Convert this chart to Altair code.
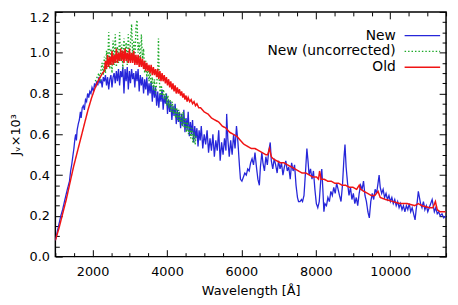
import altair as alt
import pandas as pd

# ---------------- data ----------------
series_names = ["New", "New (uncorrected)", "Old"]
series_colors = ["#2626d9", "#1faa2a", "#f01414"]

new_wl = [1000, 1049, 1098, 1146, 1195, 1244, 1283, 1322, 1351, 1380, 1410, 1439, 1468, 1498, 1527, 1546, 1566, 1585,
          1615, 1644, 1673, 1693, 1722, 1751, 1780, 1810, 1839, 1868, 1897, 1927, 1956, 1985, 2024, 2054, 2083, 2112,
          2141, 2171, 2200, 2229, 2258, 2288, 2317, 2346, 2375, 2405, 2434, 2463, 2493, 2522, 2551, 2580, 2610, 2639,
          2668, 2697, 2727, 2756, 2785, 2814, 2844, 2873, 2902, 2932, 2961, 2990, 3019, 3049, 3078, 3107, 3136, 3166,
          3195, 3224, 3253, 3283, 3312, 3341, 3371, 3400, 3429, 3458, 3488, 3517, 3546, 3575, 3605, 3634, 3663, 3692,
          3722, 3751, 3780, 3810, 3839, 3868, 3897, 3927, 3956, 3985, 4014, 4044, 4073, 4102, 4131, 4161, 4190, 4219,
          4249, 4278, 4307, 4336, 4366, 4395, 4424, 4453, 4483, 4512, 4541, 4570, 4600, 4629, 4658, 4687, 4717, 4746,
          4775, 4804, 4834, 4863, 4892, 4922, 4961, 5000, 5039, 5078, 5117, 5156, 5195, 5234, 5273, 5312, 5351, 5390,
          5429, 5468, 5507, 5546, 5585, 5604, 5634, 5673, 5712, 5751, 5790, 5829, 5868, 5907, 5946, 5975, 6014, 6053,
          6092, 6131, 6170, 6209, 6248, 6287, 6325, 6365, 6404, 6443, 6482, 6511, 6550, 6579, 6619, 6658, 6697, 6736,
          6775, 6804, 6843, 6882, 6921, 6960, 6999, 7038, 7077, 7116, 7155, 7194, 7233, 7272, 7312, 7350, 7390, 7429,
          7468, 7507, 7536, 7575, 7614, 7643, 7682, 7721, 7760, 7790, 7819, 7858, 7897, 7936, 7975, 8014, 8053, 8092,
          8131, 8160, 8189, 8217, 8246, 8286, 8325, 8365, 8404, 8443, 8482, 8521, 8560, 8599, 8636, 8677, 8716, 8755,
          8784, 8814, 8853, 8892, 8931, 8970, 9009, 9048, 9087, 9126, 9165, 9204, 9243, 9282, 9321, 9360, 9399, 9438,
          9477, 9516, 9555, 9594, 9633, 9672, 9701, 9731, 9770, 9809, 9848, 9887, 9926, 9965, 10004, 10043, 10082,
          10121, 10160, 10199, 10238, 10277, 10316, 10355, 10394, 10433, 10472, 10511, 10550, 10589, 10628, 10667,
          10696, 10726, 10755, 10785, 10814, 10853, 10892, 10931, 10970, 11009, 11048, 11087, 11126, 11156, 11185,
          11224, 11263, 11302, 11341, 11390, 11439, 11488]
new_val = [0.08, 0.12, 0.16, 0.20, 0.23, 0.27, 0.30, 0.33, 0.35, 0.37, 0.42, 0.45, 0.49, 0.53, 0.58, 0.60, 0.57, 0.62,
           0.65, 0.67, 0.71, 0.68, 0.73, 0.74, 0.72, 0.77, 0.76, 0.80, 0.78, 0.81, 0.80, 0.83, 0.81, 0.85, 0.83, 0.86,
           0.84, 0.88, 0.85, 0.87, 0.83, 0.88, 0.86, 0.89, 0.84, 0.88, 0.82, 0.87, 0.89, 0.83, 0.88, 0.90, 0.85, 0.91,
           0.86, 0.92, 0.84, 0.91, 0.88, 0.93, 0.80, 0.92, 0.86, 0.93, 0.82, 0.91, 0.85, 0.92, 0.87, 0.90, 0.83, 0.91,
           0.86, 0.92, 0.81, 0.89, 0.84, 0.88, 0.80, 0.87, 0.82, 0.88, 0.79, 0.85, 0.80, 0.86, 0.76, 0.84, 0.78, 0.83,
           0.74, 0.81, 0.73, 0.80, 0.76, 0.82, 0.72, 0.79, 0.75, 0.80, 0.70, 0.77, 0.71, 0.76, 0.67, 0.74, 0.69, 0.75,
           0.65, 0.72, 0.66, 0.71, 0.63, 0.70, 0.64, 0.72, 0.61, 0.68, 0.62, 0.71, 0.59, 0.66, 0.60, 0.67, 0.56, 0.64,
           0.58, 0.63, 0.54, 0.62, 0.57, 0.64, 0.53, 0.60, 0.55, 0.62, 0.51, 0.58, 0.52, 0.60, 0.49, 0.57, 0.52, 0.62,
           0.47, 0.56, 0.50, 0.58, 0.52, 0.70, 0.58, 0.49, 0.57, 0.50, 0.60, 0.53, 0.64, 0.56, 0.45, 0.38, 0.37, 0.39,
           0.41, 0.40, 0.43, 0.42, 0.46, 0.48, 0.45, 0.51, 0.44, 0.38, 0.35, 0.44, 0.51, 0.46, 0.42, 0.49, 0.45, 0.52,
           0.56, 0.47, 0.43, 0.48, 0.45, 0.41, 0.47, 0.43, 0.46, 0.40, 0.44, 0.47, 0.42, 0.44, 0.38, 0.46, 0.42, 0.45,
           0.35, 0.29, 0.27, 0.27, 0.28, 0.27, 0.30, 0.41, 0.53, 0.47, 0.40, 0.43, 0.38, 0.42, 0.33, 0.26, 0.24, 0.27,
           0.37, 0.43, 0.33, 0.22, 0.26, 0.25, 0.29, 0.27, 0.32, 0.30, 0.34, 0.31, 0.36, 0.33, 0.30, 0.27, 0.35, 0.48,
           0.55, 0.44, 0.36, 0.30, 0.34, 0.28, 0.31, 0.26, 0.29, 0.25, 0.31, 0.35, 0.33, 0.37, 0.30, 0.27, 0.22, 0.19,
           0.27, 0.31, 0.28, 0.33, 0.31, 0.36, 0.40, 0.34, 0.31, 0.33, 0.29, 0.31, 0.28, 0.30, 0.27, 0.29, 0.26,
           0.28, 0.25, 0.27, 0.24, 0.26, 0.23, 0.25, 0.22, 0.25, 0.23, 0.26, 0.22, 0.24, 0.21, 0.18,
           0.23, 0.27, 0.32, 0.29, 0.26, 0.24, 0.27, 0.23, 0.25, 0.22, 0.24, 0.26, 0.28, 0.25, 0.22,
           0.24, 0.21, 0.22, 0.20, 0.21, 0.19, 0.20]

unc_wl = [2073, 2122, 2171, 2200, 2229, 2258, 2288, 2317, 2346, 2375, 2405, 2434, 2463, 2493, 2522, 2551, 2580, 2610,
          2639, 2668, 2697, 2727, 2756, 2785, 2814, 2844, 2873, 2902, 2932, 2961, 2990, 3019, 3049, 3078, 3107, 3136,
          3166, 3195, 3224, 3253, 3283, 3312, 3341, 3371, 3400, 3429, 3458, 3488, 3517, 3546, 3575, 3605, 3634, 3663,
          3692, 3722, 3751, 3771, 3790, 3819, 3849, 3878, 3907, 3936, 3966, 3995, 4024, 4053, 4083, 4112, 4141, 4171,
          4200, 4229, 4258, 4288, 4317, 4346, 4375, 4405, 4434, 4463, 4493, 4522, 4551, 4580, 4610, 4639, 4668, 4697,
          4727, 4756, 4785]
unc_val = [0.86, 0.88, 0.90, 0.86, 0.92, 0.95, 0.89, 0.98, 0.90, 1.01, 0.93, 1.10, 0.92, 1.02, 0.90, 1.06, 0.94, 1.09,
           0.93, 1.03, 0.95, 1.10, 0.96, 1.04, 0.92, 1.07, 0.97, 1.05, 0.94, 1.09, 0.96, 1.05, 1.14, 0.98, 1.06, 0.95,
           1.12, 1.16, 1.00, 1.05, 0.94, 1.09, 0.97, 1.02, 0.90, 0.96, 0.88, 0.93, 0.86, 0.91, 0.84, 0.88, 0.82, 0.87,
           0.80, 0.85, 0.90, 1.07, 0.88, 0.79, 0.84, 0.78, 0.82, 0.77, 0.80, 0.74, 0.79, 0.73, 0.77, 0.71, 0.76, 0.70,
           0.74, 0.68, 0.73, 0.67, 0.72, 0.66, 0.70, 0.64, 0.71, 0.63, 0.68, 0.61, 0.66, 0.60, 0.64, 0.58, 0.63, 0.56,
           0.61, 0.55, 0.60]

old_wl = [1000, 1098, 1195, 1293, 1390, 1488, 1585, 1683, 1780, 1878, 1976, 2073, 2171, 2268, 2317, 2346, 2375, 2405,
          2434, 2463, 2493, 2522, 2551, 2580, 2610, 2639, 2668, 2697, 2727, 2756, 2785, 2814, 2844, 2873, 2902, 2932,
          2961, 2990, 3019, 3049, 3078, 3107, 3136, 3166, 3195, 3224, 3253, 3283, 3312, 3341, 3371, 3400, 3429, 3458,
          3488, 3517, 3546, 3575, 3605, 3634, 3663, 3692, 3722, 3751, 3780, 3810, 3839, 3868, 3897, 3927, 3956, 3985,
          4014, 4044, 4073, 4102, 4131, 4161, 4190, 4219, 4249, 4278, 4307, 4336, 4366, 4395, 4424, 4453, 4483, 4512,
          4541, 4570, 4610, 4649, 4687, 4727, 4766, 4804, 4853, 4902, 5000, 5097, 5195, 5292, 5390, 5487, 5585, 5682,
          5780, 5878, 5975, 6073, 6170, 6267, 6365, 6462, 6560, 6657, 6706, 6755, 6804, 6853, 6951, 7048, 7146, 7243,
          7341, 7438, 7536, 7634, 7731, 7829, 7926, 8024, 8072, 8102, 8141, 8219, 8317, 8414, 8512, 8609, 8707, 8804,
          8902, 8999, 9097, 9165, 9204, 9292, 9390, 9487, 9585, 9672, 9731, 9877, 10072, 10267, 10462, 10658, 10755,
          10853, 11048, 11146, 11214, 11263, 11341, 11488]
old_val = [0.08, 0.14, 0.21, 0.28, 0.36, 0.44, 0.51, 0.58, 0.65, 0.72, 0.78, 0.83, 0.87, 0.90, 0.91, 0.96, 0.92, 0.99,
           0.93, 0.98, 0.94, 1.01, 0.94, 0.99, 0.95, 1.02, 0.95, 1.00, 0.96, 1.02, 0.96, 1.01, 0.95, 1.02, 0.96, 1.00,
           0.95, 1.02, 0.95, 1.00, 0.95, 1.01, 0.94, 0.99, 0.94, 0.99, 0.93, 0.98, 0.93, 0.97, 0.92, 0.96, 0.91, 0.95,
           0.91, 0.94, 0.90, 0.94, 0.89, 0.93, 0.89, 0.92, 0.88, 0.92, 0.87, 0.91, 0.86, 0.90, 0.86, 0.89, 0.85, 0.88,
           0.84, 0.87, 0.83, 0.86, 0.82, 0.85, 0.81, 0.84, 0.80, 0.83, 0.80, 0.82, 0.79, 0.81, 0.78, 0.80, 0.77, 0.79,
           0.76, 0.78, 0.76, 0.77, 0.75, 0.76, 0.74, 0.75, 0.73, 0.73, 0.71, 0.70, 0.68, 0.67, 0.66, 0.64, 0.63, 0.61,
           0.60, 0.59, 0.57, 0.55, 0.54, 0.53, 0.53, 0.52, 0.51, 0.50, 0.50, 0.53, 0.49, 0.48, 0.47, 0.46, 0.46, 0.45,
           0.44, 0.43, 0.42, 0.41, 0.41, 0.40, 0.39, 0.39, 0.38, 0.42, 0.38, 0.38, 0.37, 0.37, 0.36, 0.36, 0.35, 0.35,
           0.34, 0.34, 0.33, 0.35, 0.33, 0.32, 0.31, 0.30, 0.30, 0.32, 0.29, 0.28, 0.27, 0.26, 0.26, 0.25, 0.26,
           0.25, 0.24, 0.24, 0.27, 0.23, 0.22, 0.22]

x_tick_values = [1000, 1500, 2000, 2500, 3000, 3500, 4000, 4500, 5000, 5500, 6000, 6500, 7000, 7500, 8000, 8500,
                 9000, 9500, 10000, 10500, 11000, 11500]
x_label_values = [2000, 4000, 6000, 8000, 10000]
y_tick_values = [0.0, 0.05, 0.1, 0.15, 0.2, 0.25, 0.3, 0.35, 0.4, 0.45, 0.5, 0.55, 0.6, 0.65, 0.7, 0.75, 0.8,
                 0.85, 0.9, 0.95, 1.0, 1.05, 1.1, 1.15, 1.2]
y_label_values = [0.0, 0.2, 0.4, 0.6, 0.8, 1.0, 1.2]

# ---------------- table ----------------
frames = [
    pd.DataFrame({"wl": new_wl, "val": new_val, "series": "New"}),
    pd.DataFrame({"wl": unc_wl, "val": unc_val, "series": "New (uncorrected)"}),
    pd.DataFrame({"wl": old_wl, "val": old_val, "series": "Old"}),
]
df = pd.concat(frames, ignore_index=True)

W, H = 396, 248
FONT = "DejaVu Sans"

xs = alt.Scale(domain=[1000, 11500], nice=False, zero=False)
ys = alt.Scale(domain=[0, 1.2], nice=False, zero=False)

# long horizontal line sample drawn to the right of right-aligned labels
legend = alt.Legend(
    title=None, orient="none", legendX=365, legendY=17, padding=0,
    symbolType="M-3,0H3", symbolSize=144, symbolOffset=0, symbolFillColor="transparent",
    labelAlign="right", labelOffset={"expr": "-34"}, labelFont=FONT, labelFontSize=14,
    labelColor="black", rowPadding=2,
)
color = alt.Color("series:N", scale=alt.Scale(domain=series_names, range=series_colors), legend=legend)
dash = alt.StrokeDash("series:N", scale=alt.Scale(domain=series_names, range=[[1, 0], [1.5, 2], [1, 0]]), legend=legend)
swidth = alt.StrokeWidth("series:N", scale=alt.Scale(domain=series_names, range=[1.3, 1.5, 2.0]), legend=legend)

main_x_axis = alt.Axis(title="Wavelength [Å]", values=x_label_values, format="d", ticks=False, tickSize=0,
                       domain=False, grid=False, labelPadding=9, titlePadding=6)
main_y_axis = alt.Axis(title="Jᵥ×10³", values=y_label_values, format=".1f", ticks=False, tickSize=0,
                       domain=False, grid=False, labelPadding=6, titlePadding=7,
                       labelBaseline={"condition": {"test": "datum.value > 1.15", "value": "top"}, "value": "middle"})


def line_layer(name, with_axes):
    return alt.Chart(df).transform_filter(alt.datum.series == name).mark_line(strokeCap="butt", clip=True).encode(
        x=alt.X("wl:Q", scale=xs, axis=main_x_axis if with_axes else None),
        y=alt.Y("val:Q", scale=ys, axis=main_y_axis if with_axes else None),
        color=color, strokeDash=dash, strokeWidth=swidth,
    )


x_major = {"condition": {"test": "datum.value % 2000 === 0", "value": 7}, "value": 4}
y_major = {"condition": {"test": "abs(datum.value * 5 - round(datum.value * 5)) < 0.01", "value": 7}, "value": 4}


def tick_layer(x_orient, y_orient):
    return alt.Chart(df).transform_filter("false").mark_point(opacity=0).encode(
        x=alt.X("wl:Q", scale=xs, axis=alt.Axis(orient=x_orient, offset=-H, labels=False, title=None, domain=False,
                                                grid=False, values=x_tick_values, tickSize=x_major,
                                                tickColor="black", tickWidth=1)),
        y=alt.Y("val:Q", scale=ys, axis=alt.Axis(orient=y_orient, offset=-W, labels=False, title=None, domain=False,
                                                 grid=False, values=y_tick_values, tickSize=y_major,
                                                 tickColor="black", tickWidth=1)),
    )


chart = alt.layer(
    line_layer("New", True),
    line_layer("New (uncorrected)", False),
    line_layer("Old", False),
    tick_layer("top", "right"),
    tick_layer("bottom", "left"),
).resolve_axis(x="independent", y="independent").properties(
    width=W, height=H,
    autosize=alt.AutoSizeParams(type="none"),
    padding={"left": 48, "top": 2, "right": 4, "bottom": 44},
).configure_view(stroke="black", strokeWidth=1.5).configure_axis(
    labelFont=FONT, labelFontSize=13, labelColor="black",
    titleFont=FONT, titleFontSize=13, titleFontWeight="normal", titleColor="black",
)

chart.save("out.html", embed_options={"renderer": "svg", "actions": False})
